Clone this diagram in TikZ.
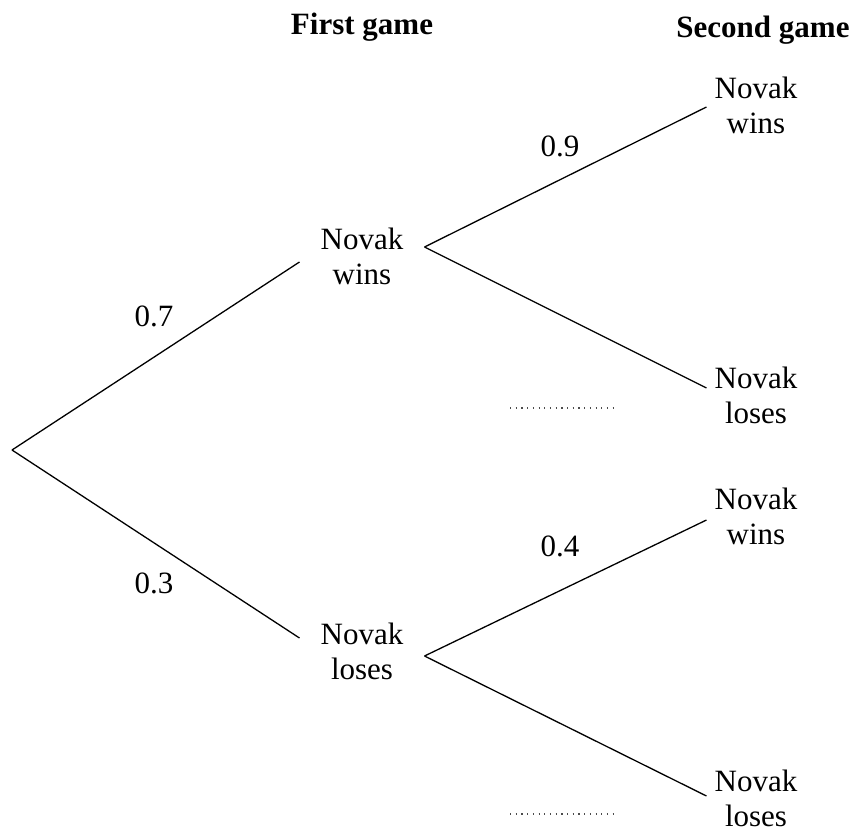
\documentclass[tikz,border=0pt]{standalone}
\usepackage{fontspec}
\setmainfont{Liberation Serif}
\begin{document}
\begin{tikzpicture}[x=1pt,y=-1pt,
  every node/.style={font=\fontsize{31}{35}\selectfont, align=center, inner sep=0pt},
  outcome/.style={inner xsep=8pt},
  head/.style={font=\fontsize{31}{35}\selectfont\bfseries},
  prob/.style={},
  branch/.style={line width=1.3pt},
  blank/.style={line width=1.2pt, dash pattern=on 1.2pt off 4.5pt, black!70}]
\useasboundingbox (0,0) rectangle (858,834);
\node[head] (h1) at (362,27) {First game};
\node[head] (h2) at (763,30) {Second game};
\coordinate (root) at (12,450);
\node[inner xsep=21pt] (fw) at (362,256) {Novak\\wins};
\node[inner xsep=21pt] (fl) at (362,651) {Novak\\loses};
\node[outcome] (s1) at (756,105) {Novak\\wins};
\node[outcome] (s2) at (756,395) {Novak\\loses};
\node[outcome] (s3) at (756,516) {Novak\\wins};
\node[outcome] (s4) at (756,798) {Novak\\loses};
\draw[branch] (root) -- ([yshift=-6pt]fw.west);
\draw[branch] (root) -- ([yshift=13pt]fl.west);
\draw[branch] ([yshift=9pt]fw.east) -- ([yshift=-2pt]s1.west);
\draw[branch] ([yshift=9pt]fw.east) -- ([yshift=7pt]s2.west);
\draw[branch] ([yshift=-5pt]fl.east) -- ([yshift=-4pt]s3.west);
\draw[branch] ([yshift=-5pt]fl.east) -- ([yshift=2pt]s4.west);
\node[prob] (p1) at (154,316) {0.7};
\node[prob] (p2) at (154,583) {0.3};
\node[prob] (p3) at (560,146) {0.9};
\node[prob] (p4) at (560,546) {0.4};
\draw[blank] (510,408) -- (618,408);
\draw[blank] (510,814) -- (618,814);
\end{tikzpicture}
\end{document}
